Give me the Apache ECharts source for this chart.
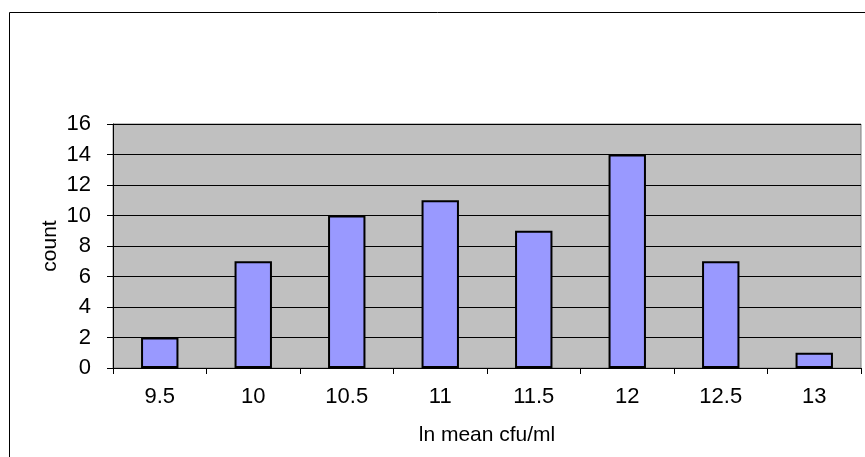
<!DOCTYPE html>
<html>
<head>
<meta charset="utf-8">
<script src="https://cdn.jsdelivr.net/npm/echarts@6/dist/echarts.min.js"></script>
<style>html,body{margin:0;padding:0;background:#fff}#c{width:865px;height:457px}</style>
</head>
<body>
<div id="c"></div>
<script>
const categories = ['9.5', '10', '10.5', '11', '11.5', '12', '12.5', '13'];
const counts = [2, 7, 10, 11, 9, 14, 7, 1];
const xName = 'ln mean cfu/ml';
const yName = 'count';

const font = '"Liberation Sans", Arial, sans-serif';
const fs = 22;
const nfs = 21;
const chart = echarts.init(document.getElementById('c'), null, {renderer: 'canvas'});
chart.setOption({
  animation: false,
  backgroundColor: '#ffffff',
  graphic: [{
    type: 'rect',
    shape: {x: 9.5, y: 12.5, width: 900, height: 500},
    style: {fill: 'none', stroke: '#000', lineWidth: 1},
    silent: true, z: -10
  }],
  grid: {
    left: 113, top: 124, right: 4, bottom: 89,
    show: true, backgroundColor: '#C0C0C0', borderColor: '#808080', borderWidth: 1
  },
  xAxis: {
    type: 'category',
    data: categories,
    name: xName,
    nameLocation: 'middle',
    nameGap: 57,
    nameMoveOverlap: false,
    nameTextStyle: {fontFamily: font, fontSize: nfs, color: '#000'},
    axisLine: {lineStyle: {color: '#000', width: 1}},
    axisTick: {show: true, length: 6, lineStyle: {color: '#000'}},
    axisLabel: {fontFamily: font, fontSize: fs, color: '#000', margin: 18},
    splitLine: {show: false}
  },
  yAxis: {
    type: 'value',
    min: 0, max: 16, interval: 2,
    name: yName,
    nameLocation: 'middle',
    nameGap: 52,
    nameMoveOverlap: false,
    nameRotate: 90,
    nameTextStyle: {fontFamily: font, fontSize: nfs, color: '#000'},
    axisLine: {show: true, lineStyle: {color: '#000', width: 1}},
    axisTick: {show: true, length: 6, lineStyle: {color: '#000'}},
    axisLabel: {fontFamily: font, fontSize: fs, color: '#000', margin: 22},
    splitLine: {show: true, lineStyle: {color: '#000', width: 1}}
  },
  series: [{
    type: 'bar',
    data: counts,
    barWidth: '40%',
    itemStyle: {color: '#9999FF', borderColor: '#000', borderWidth: 2}
  }]
});
</script>
</body>
</html>
